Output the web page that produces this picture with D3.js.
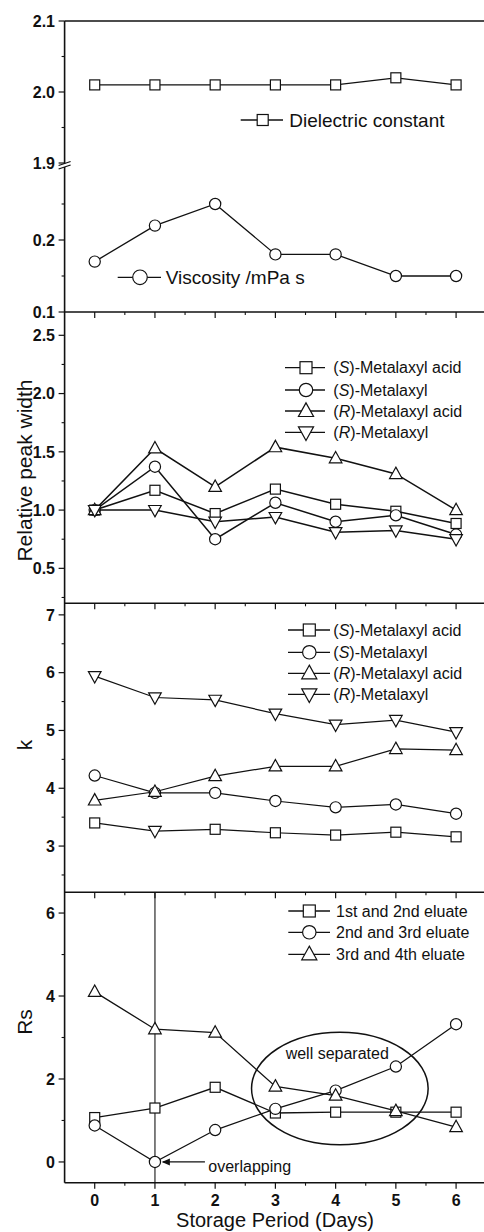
<!DOCTYPE html>
<html><head><meta charset="utf-8">
<script src="https://cdn.jsdelivr.net/npm/d3@7"></script>
<style>body{margin:0;background:#fff} svg{display:block;font-family:Arial,"Liberation Sans",sans-serif}</style>
</head><body><svg id="c" width="484" height="1232"></svg>
<script>
// ---------- data ----------
const days = [0,1,2,3,4,5,6];
const dielectric = [2.01,2.01,2.01,2.01,2.01,2.02,2.01];
const viscosity = [0.17,0.22,0.25,0.18,0.18,0.15,0.15];
const pwSAcid = [1.0,1.17,0.97,1.18,1.05,0.99,0.885];
const pwS     = [1.0,1.372,0.75,1.063,0.90,0.955,0.79];
const pwRAcid = [1.0,1.53,1.2,1.54,1.445,1.31,1.0];
const pwR     = [1.0,1.0,0.90,0.94,0.81,0.825,0.75];
const kSAcid = [3.40,3.26,3.29,3.23,3.19,3.24,3.16];
const kS     = [4.22,3.92,3.92,3.78,3.67,3.72,3.56];
const kRAcid = [3.79,3.94,4.21,4.38,4.38,4.68,4.66];
const kR     = [5.94,5.57,5.53,5.29,5.10,5.18,4.97];
const rs12 = [1.07,1.30,1.80,1.18,1.20,1.20,1.20];
const rs23 = [0.88,0.0,0.77,1.28,1.72,2.30,3.32];
const rs34 = [4.10,3.20,3.12,1.82,1.60,1.23,0.84];
const metalaxylNames = ["(S)-Metalaxyl acid","(S)-Metalaxyl","(R)-Metalaxyl acid","(R)-Metalaxyl"];
const eluateNames = ["1st and 2nd eluate","2nd and 3rd eluate","3rd and 4th eluate"];
const xTickLabels = ["0","1","2","3","4","5","6"];
const yTicksUpper = [1.9,2.0,2.1];
const yTicksLower = [0.1,0.2];
const yTicksPW = [0.5,1.0,1.5,2.0,2.5];
const yTicksK = [3,4,5,6,7];
const yTicksRs = [0,2,4,6];

// ---------- layout ----------
const svg = d3.select("#c");
const FONT = 'Arial,"Liberation Sans",sans-serif';
const x = d3.scaleLinear().domain([-0.5,6.5]).range([64.6,486.2]);
const yUp = d3.scaleLinear().domain([1.9,2.1]).range([163,21]);
const yLo = d3.scaleLinear().domain([0.1,0.3]).range([312,168]);
const yPW = d3.scaleLinear().domain([0.2,2.7]).range([603.3,312]);
const yK  = d3.scaleLinear().domain([2.2,7.2]).range([892.3,603.3]);
const yRs = d3.scaleLinear().domain([-0.5,6.5]).range([1182.7,892.3]);
const kSAcidShapes = ["square","down","square","square","square","square","square"];

function marker(g, type, cx, cy, s){
  s = s||1;
  let el;
  if(type==="square"){
    el = g.append("rect").attr("x",cx-5*s).attr("y",cy-5*s).attr("width",10*s).attr("height",10*s);
  } else if(type==="circle"){
    el = g.append("circle").attr("cx",cx).attr("cy",cy).attr("r",5.6*s);
  } else if(type==="up"){
    el = g.append("path").attr("d",`M${cx},${cy-6.8*s}L${cx+6.3*s},${cy+4.6*s}L${cx-6.3*s},${cy+4.6*s}Z`);
  } else {
    el = g.append("path").attr("d",`M${cx},${cy+6.8*s}L${cx+6.3*s},${cy-4.6*s}L${cx-6.3*s},${cy-4.6*s}Z`);
  }
  el.attr("fill","#fff").attr("stroke","#111").attr("stroke-width",1.2);
}

function series(vals, ys, shape, sw, shapes){
  const g = svg.append("g");
  const line = d3.line().x((d,i)=>x(days[i])).y(d=>ys(d));
  g.append("path").datum(vals).attr("d",line).attr("fill","none").attr("stroke","#111").attr("stroke-width",sw||1.3);
  vals.forEach((v,i)=>marker(g, shapes?shapes[i]:shape, x(days[i]), ys(v)));
}

function richText(t, str){
  const m = str.match(/^\((S|R)\)(.*)$/);
  if(m){
    t.append("tspan").text("(");
    t.append("tspan").attr("font-style","italic").text(m[1]);
    t.append("tspan").text(")"+m[2]);
  } else t.text(str);
}

function legend(items, x0, x1, mx, tx, ys, fs, ms){
  items.forEach((it,i)=>{
    const g = svg.append("g");
    g.append("line").attr("x1",x0).attr("x2",x1).attr("y1",ys[i]).attr("y2",ys[i]).attr("stroke","#111").attr("stroke-width",1.3);
    marker(g, it.shape, mx, ys[i], ms);
    const t = g.append("text").attr("x",tx).attr("y",ys[i]).attr("dy","0.36em")
      .attr("font-size",fs).attr("fill","#111");
    richText(t, it.name);
  });
}

function yAxis(ys, major, minor, labels){
  const g = svg.append("g");
  major.forEach((v,i)=>{
    g.append("line").attr("x1",x.range()[0]-6).attr("x2",x.range()[0]).attr("y1",ys(v)).attr("y2",ys(v)).attr("stroke","#111").attr("stroke-width",1.2);
    if(labels!==false)
      g.append("text").attr("x",55).attr("y",ys(v)).attr("dy","0.36em").attr("text-anchor","end")
        .attr("font-size",16).attr("font-weight","bold").attr("fill","#111").text(d3.format(".1f")(v).replace(/\.0$/, Number.isInteger(v)&&major.every(Number.isInteger)?"":".0"));
  });
  minor.forEach(v=>{
    g.append("line").attr("x1",x.range()[0]-3).attr("x2",x.range()[0]).attr("y1",ys(v)).attr("y2",ys(v)).attr("stroke","#111").attr("stroke-width",1.1);
  });
}

function xTicksAt(yy){
  const g = svg.append("g");
  days.forEach(d=>g.append("line").attr("x1",x(d)).attr("x2",x(d)).attr("y1",yy).attr("y2",yy+6).attr("stroke","#111").attr("stroke-width",1.2));
  [0.5,1.5,2.5,3.5,4.5,5.5].forEach(d=>g.append("line").attr("x1",x(d)).attr("x2",x(d)).attr("y1",yy).attr("y2",yy+3).attr("stroke","#111").attr("stroke-width",1.1));
}

// ---------- panel 4 annotation lines (under data) ----------
svg.append("line").attr("x1",x(1)).attr("x2",x(1)).attr("y1",yRs.range()[1]).attr("y2",yRs.range()[0])
  .attr("stroke","#555").attr("stroke-width",1.5);

// ---------- frame ----------
const L = x.range()[0], R = x.range()[1];
svg.append("line").attr("x1",L).attr("x2",L).attr("y1",21).attr("y2",1182.7).attr("stroke","#111").attr("stroke-width",1.6);
[21,312,603.3,892.3,1182.7].forEach(yy=>{
  svg.append("line").attr("x1",L).attr("x2",R).attr("y1",yy).attr("y2",yy).attr("stroke","#111").attr("stroke-width",1.6);
});
[312,603.3,892.3,1182.7].forEach(xTicksAt);

// axis break on panel 1
svg.append("rect").attr("x",L-2).attr("y",163.5).attr("width",4).attr("height",3.5).attr("fill","#fff");
[[163.5],[167]].forEach(([yy])=>{
  svg.append("line").attr("x1",L-6).attr("x2",L+6).attr("y1",yy+2).attr("y2",yy-2).attr("stroke","#111").attr("stroke-width",1.3);
});

// ---------- y axes ----------
yAxis(yUp, yTicksUpper, [1.95,2.05]);
yAxis(yLo, yTicksLower, [0.15,0.25]);
yAxis(yPW, yTicksPW, [0.25,0.75,1.25,1.75,2.25]);
yAxis(yK, yTicksK, [2.5,3.5,4.5,5.5,6.5]);
yAxis(yRs, yTicksRs, [1,3,5]);

// x tick labels
xTickLabels.forEach((t,i)=>svg.append("text").attr("x",x(days[i])).attr("y",1206).attr("text-anchor","middle")
  .attr("font-size",16).attr("font-weight","bold").attr("fill","#111").text(t));
svg.append("text").attr("x",275).attr("y",1226.5).attr("text-anchor","middle").attr("font-size",20).attr("fill","#111").text("Storage Period (Days)");

// y titles
[["Relative peak width",470.5],["k",745],["Rs",1022]].forEach(([t,yy])=>{
  svg.append("text").attr("transform",`translate(32,${yy}) rotate(-90)`).attr("text-anchor","middle")
    .attr("font-size",21).attr("fill","#111").text(t);
});

// ---------- data series ----------
series(dielectric, yUp, "square");
series(viscosity, yLo, "circle");
legend([{shape:"square",name:"Dielectric constant"}], 240.7, 283, 262.7, 289.3, [120], 19, 1.1);
legend([{shape:"circle",name:"Viscosity /mPa s"}], 117.7, 161, 140, 165.7, [277.3], 19, 1.3);

series(pwSAcid, yPW, "square", 1.5);
series(pwS, yPW, "circle", 1.5);
series(pwRAcid, yPW, "up", 1.5);
series(pwR, yPW, "down", 1.5);
const shapes4 = ["square","circle","up","down"];
legend(metalaxylNames.map((n,i)=>({shape:shapes4[i],name:n})), 285, 325, 306, 333.3, [367.7,390,411,432.3], 16, 1.2);

series(kSAcid, yK, "square", 1.2, kSAcidShapes);
series(kS, yK, "circle", 1.2);
series(kRAcid, yK, "up", 1.2);
series(kR, yK, "down", 1.2);
legend(metalaxylNames.map((n,i)=>({shape:shapes4[i],name:n})), 288, 330, 309.3, 333.3, [630,652.3,673.3,694.3], 16, 1.2);

// ellipse + annotations (panel 4)
svg.append("ellipse").attr("cx",x(4.07)).attr("cy",yRs(1.77))
  .attr("rx",x(4.07+1.466)-x(4.07)).attr("ry",yRs(1.77)-yRs(1.77+1.356))
  .attr("fill","none").attr("stroke","#111").attr("stroke-width",1.5);
svg.append("text").attr("x",x(3.17)).attr("y",yRs(2.49)).attr("font-size",16).attr("fill","#111").text("well separated");

series(rs12, yRs, "square", 1.3);
series(rs23, yRs, "circle", 1.3);
series(rs34, yRs, "up", 1.3);
legend(eluateNames.map((n,i)=>({shape:shapes4[i],name:n})), 288.3, 330, 309.3, 336, [911,932.3,954.3], 16, 1.2);

// overlapping arrow
svg.append("line").attr("x1",x(1.83)).attr("x2",x(1.13)).attr("y1",yRs(0)).attr("y2",yRs(0)).attr("stroke","#111").attr("stroke-width",1.2);
svg.append("path").attr("d",`M${x(1.115)},${yRs(0)}l8,-3.5l0,7z`).attr("fill","#111");
svg.append("text").attr("x",x(1.886)).attr("y",yRs(-0.245)).attr("font-size",16).attr("fill","#111").text("overlapping");
</script></body></html>
